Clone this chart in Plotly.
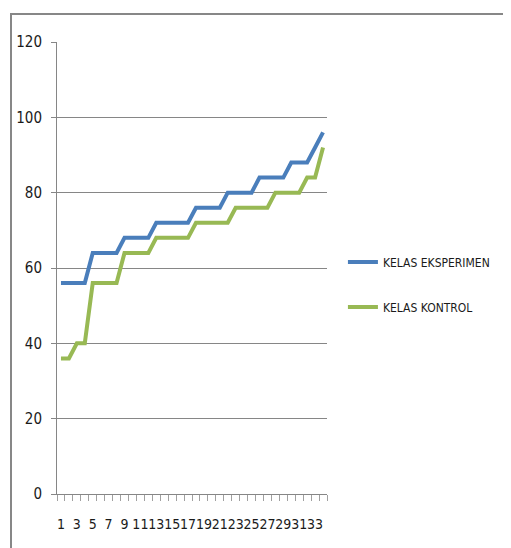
import plotly.graph_objects as go

categories = list(range(1, 35))
tick_labels = [str(v) for v in range(1, 34, 2)]
kelas_eksperimen = [56, 56, 56, 56, 64, 64, 64, 64, 68, 68, 68, 68,
                    72, 72, 72, 72, 72, 76, 76, 76, 76, 80, 80, 80, 80,
                    84, 84, 84, 84, 88, 88, 88, 92, 96]
kelas_kontrol = [36, 36, 40, 40, 56, 56, 56, 56, 64, 64, 64, 64,
                 68, 68, 68, 68, 68, 72, 72, 72, 72, 72, 76, 76, 76, 76, 76,
                 80, 80, 80, 80, 84, 84, 92]

FONT = "Liberation Sans Narrow, DejaVu Sans Condensed, Arial Narrow, Roboto, sans-serif"

fig = go.Figure()
fig.add_trace(go.Scatter(x=categories, y=kelas_eksperimen, mode="lines",
                         name="KELAS EKSPERIMEN", legendgroup="a",
                         line=dict(color="#4A7EBB", width=4)))
fig.add_trace(go.Scatter(x=categories, y=kelas_kontrol, mode="lines",
                         name="KELAS KONTROL", legendgroup="b",
                         line=dict(color="#98B954", width=4)))

fig.update_layout(
    width=511, height=548,
    margin=dict(l=49, r=192, t=34, b=62, autoexpand=False),
    paper_bgcolor="white", plot_bgcolor="white",
    font=dict(family=FONT, size=15, color="#1a1a1a"),
    showlegend=True,
    legend=dict(x=1.059, y=0.4635, xanchor="left", yanchor="middle",
                font=dict(family=FONT, size=12, color="#1a1a1a"),
                tracegroupgap=26, itemwidth=30, bgcolor="rgba(0,0,0,0)"),
    xaxis=dict(range=[0.5, 34.5], tickmode="array", tickvals=list(range(1, 34, 2)),
               ticktext=tick_labels, ticks="", showgrid=False, zeroline=False,
               showline=True, linecolor="#868686", linewidth=1,
               tickangle=0, automargin=False, ticklabelstandoff=17,
               tickfont=dict(size=14),
               minor=dict(ticks="outside", tick0=0.5, dtick=1, ticklen=6,
                          tickcolor="#a0a0a0", tickwidth=1, showgrid=False)),
    yaxis=dict(range=[0, 120], dtick=20, ticks="outside", ticklen=5,
               tickcolor="#868686", showgrid=True, gridcolor="#868686",
               gridwidth=1, zeroline=False, showline=True, linecolor="#868686",
               linewidth=1, ticklabelstandoff=6, automargin=False,
               tickfont=dict(size=15)),
    shapes=[dict(type="rect", xref="paper", yref="paper",
                 x0=(11 - 57) / 270, x1=(530 - 57) / 270,
                 y0=(494 - 570) / 452, y1=(494 - 14) / 452,
                 line=dict(color="#878787", width=2), layer="below")],
)

fig.write_html("out.html")
